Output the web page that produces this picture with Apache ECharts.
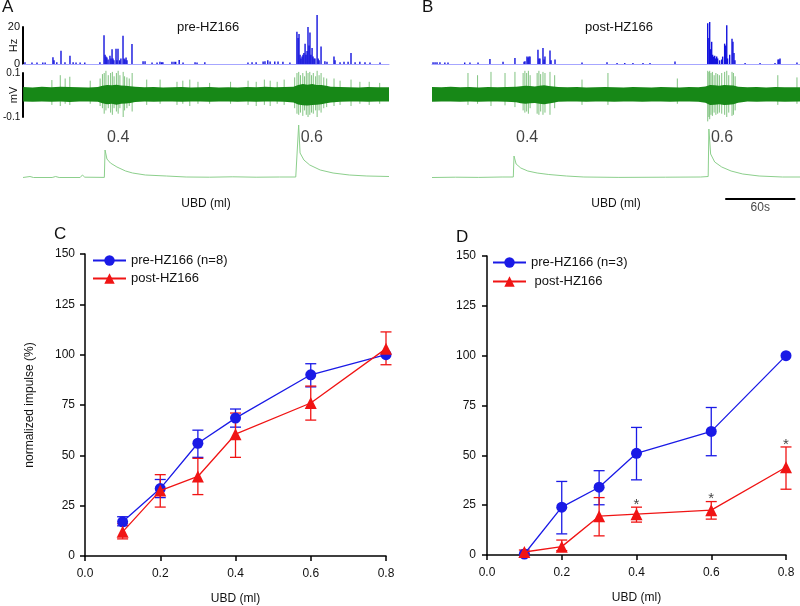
<!DOCTYPE html>
<html><head><meta charset="utf-8">
<script src="https://cdn.jsdelivr.net/npm/echarts@6/dist/echarts.min.js"></script>
<style>html,body{margin:0;padding:0;background:#fff}#c{width:800px;height:606px}</style>
</head><body><div id="c"></div>
<script>
// ===== Panels C / D : dose-response data =====
const doses = [0.1, 0.2, 0.3, 0.4, 0.6, 0.8];
const cPre    = [17, 33.5, 56, 68.5, 90, 100];
const cPreLo  = [15, 29, 49, 64, 84, 100];
const cPreHi  = [19.5, 38, 62.5, 73, 95.5, 100];
const cPost   = [12, 32.5, 39.5, 60.5, 76, 103];
const cPostLo = [8.5, 24.3, 30.5, 49, 67.5, 95];
const cPostHi = [16, 40.4, 48.5, 71, 84.4, 111.3];
const dPre    = [0.5, 24, 34, 51, 62, 100];
const dPreLo  = [0.5, 10.6, 25.2, 37.7, 49.8, 100];
const dPreHi  = [0.5, 36.9, 42.3, 64, 74, 100];
const dPost   = [1.5, 4.2, 19.5, 20.5, 22.5, 44];
const dPostLo = [0.5, 2.2, 9.6, 16.5, 18, 33];
const dPostHi = [2.5, 7.5, 28.8, 24, 26.8, 54.2];
const dSigIdx = [3, 4, 5];           // doses 0.4, 0.6, 0.8 marked *
const xTicks = [0, 0.2, 0.4, 0.6, 0.8];
const yTicks = [0, 25, 50, 75, 100, 125, 150];

// ===== Panels A / B : recordings (time in s) =====
const histA_t  = [1.7,7.7,12,17,19,25.7,26.6,29,32.6,36,40.3,43,45.5,49,53,66,69.5,70.4,71.2,72,73,74.6,75.5,76.4,77.2,78,79.8,80.6,81.5,83,84,85.8,86.7,87.5,88.4,89.2,93.5,103,104.7,110.7,115,117.5,119,120,127.8,129.6,131,134,137.3,147.6,149.3,156,193,196.5,200,206,207.6,210,212,216,218.8,223,229,235,236,236.8,237.7,238.5,239.4,240.2,241,242,242.8,243.7,244.5,245.4,246.2,247,248,248.8,249.7,250.5,252.3,253.2,254,255.7,259,260.8,266.8,267.7,272,275.4,278.9,281.4,284.9,289,293.4,297.7,306.3];
const histA_hz = [1,0.8,0.8,0.8,0.8,3.6,2,1,7.2,1,4.5,1,0.8,0.8,0.8,1,15.5,5,4,3.5,2.5,4.5,3,8,3,2,8.3,2,8.3,2,3,15.3,3,2.5,3.5,2,10.8,1.5,1.5,0.8,0.8,1.2,1,1,1.2,1.2,1.2,2.2,0.8,1,0.8,1,0.8,1,1,1.3,1.5,2,1.3,1.3,1.3,1.2,0.8,17.5,14,16.2,5,3,4,5,6,11,5,7,20,10,17,5,8.7,4,3,3,26.5,3,2,9.4,1.5,1.2,4,2,1,1.2,1.2,6,1,1.2,1,0.8,0.8];
const histB_t  = [0.9,2.6,4.3,6.8,11,13.7,28,32.5,39.4,49.6,60.8,71,78.8,79.6,81.3,82.2,83,83.9,90.7,91.6,92.4,95,95.9,96.7,101,101.9,105.3,128.4,149.8,158.4,165,172,180.6,186.6,208,236,237,237.7,238.5,239.4,240.2,241,242,242.8,243.7,244.5,246.2,248,248.8,250.5,251.4,252.3,253,254.8,256.8,257.6,258.5,259.3,268,280.8,293.6,296.2,297,297.9,312.4];
const histB_hz = [1,1,1,1,0.8,0.8,0.8,0.8,0.8,2.7,1.2,3.3,1.2,1.5,4,3.5,4,4,7.7,3,3,8.6,2.5,4,7.3,2,2.5,0.8,1,0.5,0.5,0.5,0.5,0.5,1.3,22,14,22.7,8,12,5,4,4.5,3,4,3,2,2.5,4,11,10,21,3,5,13.7,12,6,2,0.5,0.5,0.5,2.5,2.5,3,0.8];

// raw nerve trace: envelope of the dense noise band (mV) and individual spikes [t, top, bottom]
const bandA_t  = [0,8,16,24,32,40,48,56,64,68,72,76,80,84,88,92,96,104,112,120,128,136,144,152,160,168,176,184,192,200,208,216,224,232,236,240,244,248,252,256,260,264,272,280,288,296,304,314];
const bandA_hi = [0.036,0.034,0.037,0.035,0.038,0.036,0.035,0.034,0.036,0.042,0.046,0.044,0.047,0.043,0.042,0.04,0.037,0.035,0.036,0.034,0.035,0.036,0.034,0.035,0.036,0.034,0.035,0.034,0.036,0.035,0.037,0.035,0.036,0.038,0.046,0.05,0.047,0.05,0.046,0.045,0.042,0.038,0.036,0.035,0.034,0.036,0.035,0.035];
const bandA_lo = [-0.030,-0.031,-0.029,-0.031,-0.030,-0.032,-0.030,-0.029,-0.031,-0.037,-0.042,-0.04,-0.044,-0.04,-0.039,-0.036,-0.032,-0.030,-0.031,-0.029,-0.030,-0.031,-0.030,-0.029,-0.031,-0.030,-0.029,-0.031,-0.030,-0.031,-0.030,-0.029,-0.031,-0.034,-0.043,-0.047,-0.048,-0.046,-0.044,-0.042,-0.038,-0.034,-0.031,-0.030,-0.029,-0.031,-0.030,-0.030];
const bandB_t  = [0,8,16,24,32,40,48,56,64,72,76,80,84,88,92,96,100,104,108,116,124,132,140,148,156,164,172,180,188,196,204,212,220,228,234,238,242,246,250,254,258,262,270,278,286,294,302,315];
const bandB_hi = [0.036,0.035,0.037,0.035,0.036,0.034,0.036,0.035,0.036,0.038,0.04,0.042,0.041,0.039,0.042,0.044,0.041,0.039,0.036,0.035,0.036,0.034,0.035,0.036,0.035,0.034,0.036,0.035,0.034,0.036,0.035,0.034,0.036,0.035,0.039,0.046,0.044,0.042,0.046,0.044,0.043,0.037,0.035,0.036,0.034,0.036,0.035,0.035];
const bandB_lo = [-0.031,-0.030,-0.029,-0.031,-0.030,-0.031,-0.029,-0.030,-0.031,-0.033,-0.037,-0.04,-0.038,-0.036,-0.04,-0.042,-0.039,-0.035,-0.031,-0.030,-0.029,-0.031,-0.030,-0.029,-0.031,-0.030,-0.029,-0.031,-0.030,-0.029,-0.031,-0.030,-0.029,-0.031,-0.035,-0.046,-0.044,-0.042,-0.046,-0.044,-0.042,-0.035,-0.030,-0.031,-0.030,-0.029,-0.031,-0.030];
const spikesA = [[24.6,0.068,-0.045],[31.8,0.09,-0.05],[36,0.075,-0.04],[40,0.083,-0.045],[57.5,0.065,-0.04],
  [66,0.075,-0.05],[68,0.095,-0.06],[69.5,0.1,-0.085],[71,0.11,-0.07],[73,0.09,-0.06],[75,0.1,-0.08],[76.5,0.105,-0.09],[78,0.085,-0.06],[80,0.1,-0.075],[81.5,0.11,-0.085],[83,0.09,-0.06],[85.8,0.105,-0.1],[87,0.085,-0.07],[89,0.08,-0.06],[91,0.075,-0.05],[93.5,0.1,-0.075],
  [106,0.07,-0.045],[117.5,0.07,-0.04],[132,0.06,-0.045],[137,0.065,-0.04],[143,0.07,-0.05],[150,0.06,-0.04],[160,0.055,-0.04],[178,0.06,-0.04],[193,0.065,-0.045],[200,0.06,-0.05],[207,0.07,-0.045],[212,0.065,-0.05],[218,0.06,-0.04],[224,0.07,-0.045],
  [233,0.08,-0.06],[235,0.1,-0.085],[236.5,0.105,-0.09],[238,0.09,-0.08],[240,0.1,-0.095],[241.5,0.085,-0.07],[243,0.11,-0.09],[244.5,0.1,-0.1],[246,0.105,-0.09],[247.5,0.09,-0.08],[249,0.1,-0.085],[251,0.085,-0.07],[252.3,0.11,-0.1],[254,0.09,-0.07],[255.7,0.1,-0.08],[258,0.08,-0.06],[260.5,0.075,-0.055],
  [266.8,0.075,-0.05],[272,0.065,-0.045],[281.4,0.07,-0.05],[289,0.06,-0.04],[297,0.06,-0.045],[306,0.055,-0.04]];
const spikesB = [[30.8,0.1,-0.045],[39,0.09,-0.04],[50.5,0.105,-0.05],[62.5,0.1,-0.047],[71,0.105,-0.055],
  [78,0.1,-0.07],[79.5,0.11,-0.08],[81,0.1,-0.075],[82.5,0.11,-0.085],[84,0.09,-0.06],[90,0.1,-0.085],[91.5,0.11,-0.09],[93,0.095,-0.075],[95,0.105,-0.09],[96.7,0.1,-0.08],[101,0.105,-0.09],[105,0.09,-0.06],
  [128.4,0.07,-0.045],[150.6,0.1,-0.045],[210,0.075,-0.04],
  [236,0.11,-0.12],[237,0.105,-0.1],[237.7,0.11,-0.11],[238.8,0.1,-0.09],[240,0.105,-0.095],[241.5,0.09,-0.08],[243,0.1,-0.09],[244.5,0.095,-0.085],[246,0.09,-0.08],[248,0.1,-0.085],[250.5,0.105,-0.09],[252.3,0.11,-0.1],[254,0.09,-0.08],[256.8,0.105,-0.095],[258,0.1,-0.09],[259.5,0.085,-0.07],
  [296,0.09,-0.045],[312.4,0.08,-0.04]];

// bladder distension pressure trace (arbitrary units)
const pressA_t = [0,6,9,25,28,31,49,51,53,69.8,70.4,72,75,80.6,88,94,105,123,140,160,180,200,220,234,235.5,236.5,237.7,241,246,255,266,280,295,314];
const pressA_v = [0.5,1.5,0.5,0.5,1.5,0.5,0.5,3,0.8,0.6,28,19,15,11,7,5,3,2,1,0.8,1.2,0.8,1,1,2.5,53,25,18,13,8,5,3,2,1.5];
const pressB_t = [0,20,40,60,69.6,70.2,72,76,82,90,100,115,130,160,200,230,236.4,237,238.5,242,248,256,266,280,300,315];
const pressB_v = [0.5,0.8,0.6,1,1,22,14,10,7,5,3.5,2,1,0.6,0.8,1,1.5,49,24,16,11,7,4,2,1,1];
const pulseA_t = [70.4, 236.5];
const pulseB_t = [70.2, 237];
const pulseLabels = ['0.4', '0.6'];
const scaleBarStart = 251, scaleBarLen = 60;   // seconds

// ===== styling =====
const FONT = 'Liberation Sans, Arial, sans-serif';
const BLUE = '#1a1ae6', RED = '#f01414', TXT = '#111';

function zip(a, b) { return a.map((v, i) => [v, b[i]]); }

function histRender(params, api) {
  const p0 = api.coord([api.value(0), 0]);
  const p1 = api.coord([api.value(0), api.value(1)]);
  return { type: 'rect', shape: { x: p0[0] - 0.7, y: p1[1], width: 1.4, height: p0[1] - p1[1] },
           style: { fill: '#1212dd' } };
}
function spikeRender(params, api) {
  const a = api.coord([api.value(0), api.value(1)]);
  const b = api.coord([api.value(0), api.value(2)]);
  return { type: 'line', shape: { x1: a[0], y1: a[1], x2: b[0], y2: b[1] },
           style: { stroke: '#62b462', lineWidth: 1, opacity: 0.8 } };
}
function bandRender(ts, hi, lo) {
  return function (params, api) {
    const pts = [];
    for (let i = 0; i < ts.length; i++) pts.push(api.coord([ts[i], hi[i]]));
    for (let i = ts.length - 1; i >= 0; i--) pts.push(api.coord([ts[i], lo[i]]));
    return { type: 'polygon', shape: { points: pts }, style: { fill: '#178817' } };
  };
}
function errRender(color) {
  return function (params, api) {
    const x = api.value(0), lo = api.value(1), hi = api.value(2);
    if (lo === hi) return null;
    const a = api.coord([x, lo]), b = api.coord([x, hi]);
    const w = 5.5, st = { stroke: color, lineWidth: 1.3 };
    return { type: 'group', children: [
      { type: 'line', shape: { x1: a[0], y1: a[1], x2: b[0], y2: b[1] }, style: st },
      { type: 'line', shape: { x1: a[0] - w, y1: a[1], x2: a[0] + w, y2: a[1] }, style: st },
      { type: 'line', shape: { x1: b[0] - w, y1: b[1], x2: b[0] + w, y2: b[1] }, style: st }
    ] };
  };
}

const traceGrids = [
  { left: 23, top: 27, width: 366, height: 37 },
  { left: 23, top: 73, width: 366, height: 44 },
  { left: 23, top: 118, width: 366, height: 60 },
  { left: 432, top: 27, width: 368, height: 37 },
  { left: 432, top: 73, width: 368, height: 44 },
  { left: 432, top: 118, width: 368, height: 60 }
];
const plotGrids = [
  { left: 85, top: 254, width: 301, height: 302 },
  { left: 487, top: 256, width: 299, height: 299 }
];

function timeX(gi, max, kind) {
  const ax = { type: 'value', gridIndex: gi, min: 0, max: max, splitLine: { show: false },
    axisTick: { show: false }, axisLabel: { show: false } };
  if (kind === 'hist') {
    ax.axisLine = { show: true, lineStyle: { color: '#a6a6ff', width: 1 } };
  } else if (kind === 'press') {
    ax.axisLine = { show: false };
    ax.name = 'UBD (ml)'; ax.nameLocation = 'middle'; ax.nameGap = 20;
    ax.nameTextStyle = { fontFamily: FONT, fontSize: 12, color: TXT };
  } else { ax.show = false; }
  return ax;
}
function doseX(gi) {
  return { type: 'value', gridIndex: gi, min: 0, max: 0.8, interval: 0.2,
    axisLine: { lineStyle: { color: '#000', width: 1.5 } },
    axisTick: { length: 5, lineStyle: { color: '#000', width: 1.5 } },
    axisLabel: { fontFamily: FONT, fontSize: 12, color: TXT, margin: 12, formatter: v => v.toFixed(1) },
    splitLine: { show: false },
    name: 'UBD (ml)', nameLocation: 'middle', nameGap: 37,
    nameTextStyle: { fontFamily: FONT, fontSize: 12, color: TXT } };
}
function doseY(gi, withName, offset) {
  const ax = { type: 'value', gridIndex: gi, min: yTicks[0], max: yTicks[yTicks.length - 1], interval: 25, offset: offset,
    axisLine: { show: true, lineStyle: { color: '#000', width: 1.5 } },
    axisTick: { show: true, length: 5, lineStyle: { color: '#000', width: 1.5 } },
    axisLabel: { fontFamily: FONT, fontSize: 12, color: TXT, margin: 3 },
    splitLine: { show: false } };
  if (withName) {
    ax.name = 'normalized impulse (%)'; ax.nameLocation = 'middle'; ax.nameGap = 42;
    ax.nameTextStyle = { fontFamily: FONT, fontSize: 12, color: TXT };
  }
  return ax;
}
function ttl(text, left, top, size) {
  return { text: text, left: left, top: top, padding: 0,
    textStyle: { fontFamily: FONT, fontSize: size, fontWeight: 'normal', color: TXT } };
}

const option = {
  backgroundColor: '#fff',
  animation: false,
  title: [
    ttl('A', 2, -1, 17), ttl('B', 422, -1, 17), ttl('C', 54, 226, 17), ttl('D', 456, 229, 17),
    ttl('pre-HZ166', 177, 21, 13), ttl('post-HZ166', 585, 21, 13)
  ],
  legend: [
    { left: 92, top: 254, padding: 0, orient: 'vertical', itemWidth: 33, itemHeight: 13, itemGap: 5,
      data: ['pre-HZ166 (n=8)', 'post-HZ166'], textStyle: { fontFamily: FONT, fontSize: 13, color: TXT } },
    { left: 492, top: 256, padding: 0, orient: 'vertical', itemWidth: 33, itemHeight: 13, itemGap: 6,
      data: ['pre-HZ166 (n=3)', ' post-HZ166'], textStyle: { fontFamily: FONT, fontSize: 13, color: TXT } }
  ],
  grid: traceGrids.concat(plotGrids),
  xAxis: [
    timeX(0, 314, 'hist'), timeX(1, 314, 'none'), timeX(2, 314, 'press'),
    timeX(3, 315, 'hist'), timeX(4, 315, 'none'), timeX(5, 315, 'press'),
    doseX(6), doseX(7)
  ],
  yAxis: [
    { type: 'value', gridIndex: 0, min: 0, max: 20, interval: 20, splitLine: { show: false },
      axisLine: { show: true, lineStyle: { color: '#000', width: 2 } }, axisTick: { show: false },
      axisLabel: { fontFamily: FONT, fontSize: 11, color: TXT, margin: 3 },
      name: 'Hz', nameLocation: 'middle', nameGap: 4, nameMoveOverlap: false,
      nameTextStyle: { fontFamily: FONT, fontSize: 11, color: TXT } },
    { type: 'value', gridIndex: 1, min: -0.1, max: 0.1, interval: 0.1, splitLine: { show: false },
      axisLine: { show: true, lineStyle: { color: '#000', width: 2 } }, axisTick: { show: false },
      axisLabel: { fontFamily: FONT, fontSize: 10, color: TXT, margin: 3,
        formatter: v => Math.abs(v) < 1e-9 ? '' : v.toFixed(1) },
      name: 'mV', nameLocation: 'middle', nameGap: 4, nameMoveOverlap: false,
      nameTextStyle: { fontFamily: FONT, fontSize: 11, color: TXT } },
    { type: 'value', gridIndex: 2, min: 0, max: 60, show: false },
    { type: 'value', gridIndex: 3, min: 0, max: 20, show: false },
    { type: 'value', gridIndex: 4, min: -0.1, max: 0.1, show: false },
    { type: 'value', gridIndex: 5, min: 0, max: 60, show: false },
    doseY(6, true, 7),
    doseY(7, false, 8)
  ],
  series: [
    // ---- A ----
    { type: 'custom', xAxisIndex: 0, yAxisIndex: 0, clip: false, renderItem: histRender, data: zip(histA_t, histA_hz) },
    { type: 'custom', xAxisIndex: 1, yAxisIndex: 1, clip: false, renderItem: spikeRender, data: spikesA },
    { type: 'custom', xAxisIndex: 1, yAxisIndex: 1, clip: false, renderItem: bandRender(bandA_t, bandA_hi, bandA_lo), data: [[bandA_t[0], 0]] },
    { type: 'line', xAxisIndex: 2, yAxisIndex: 2, symbol: 'none', clip: false, data: zip(pressA_t, pressA_v),
      lineStyle: { color: '#8ccf8c', width: 1 } },
    { type: 'scatter', xAxisIndex: 2, yAxisIndex: 2, symbolSize: 0, clip: false,
      data: pulseA_t.map(t => [t, 40]),
      label: { show: true, position: 'right', distance: 2, fontFamily: FONT, fontSize: 16, color: TXT,
        formatter: p => pulseLabels[p.dataIndex] } },
    // ---- B ----
    { type: 'custom', xAxisIndex: 3, yAxisIndex: 3, clip: false, renderItem: histRender, data: zip(histB_t, histB_hz) },
    { type: 'custom', xAxisIndex: 4, yAxisIndex: 4, clip: false, renderItem: spikeRender, data: spikesB },
    { type: 'custom', xAxisIndex: 4, yAxisIndex: 4, clip: false, renderItem: bandRender(bandB_t, bandB_hi, bandB_lo), data: [[bandB_t[0], 0]] },
    { type: 'line', xAxisIndex: 5, yAxisIndex: 5, symbol: 'none', clip: false, data: zip(pressB_t, pressB_v),
      lineStyle: { color: '#8ccf8c', width: 1 } },
    { type: 'scatter', xAxisIndex: 5, yAxisIndex: 5, symbolSize: 0, clip: false,
      data: pulseB_t.map(t => [t, 40]),
      label: { show: true, position: 'right', distance: 2, fontFamily: FONT, fontSize: 16, color: TXT,
        formatter: p => pulseLabels[p.dataIndex] } },
    { type: 'line', xAxisIndex: 5, yAxisIndex: 5, symbol: 'none', clip: false,
      data: [[scaleBarStart, -21], [scaleBarStart + scaleBarLen, -21]], lineStyle: { color: '#000', width: 2 } },
    { type: 'scatter', xAxisIndex: 5, yAxisIndex: 5, symbolSize: 0, clip: false,
      data: [[scaleBarStart + scaleBarLen / 2, -21]],
      label: { show: true, position: 'bottom', distance: 3, fontFamily: FONT, fontSize: 12, color: TXT,
        formatter: () => scaleBarLen + 's' } },
    // ---- C ----
    { type: 'custom', xAxisIndex: 6, yAxisIndex: 6, renderItem: errRender(BLUE), data: doses.map((d, i) => [d, cPreLo[i], cPreHi[i]]), z: 3 },
    { type: 'custom', xAxisIndex: 6, yAxisIndex: 6, renderItem: errRender(RED), data: doses.map((d, i) => [d, cPostLo[i], cPostHi[i]]), z: 3 },
    { name: 'pre-HZ166 (n=8)', type: 'line', xAxisIndex: 6, yAxisIndex: 6, data: zip(doses, cPre),
      symbol: 'circle', symbolSize: 11, lineStyle: { color: BLUE, width: 1.3 }, itemStyle: { color: BLUE }, z: 4 },
    { name: 'post-HZ166', type: 'line', xAxisIndex: 6, yAxisIndex: 6, data: zip(doses, cPost),
      symbol: 'triangle', symbolSize: 12, lineStyle: { color: RED, width: 1.3 }, itemStyle: { color: RED }, z: 5 },
    // ---- D ----
    { type: 'custom', xAxisIndex: 7, yAxisIndex: 7, renderItem: errRender(BLUE), data: doses.map((d, i) => [d, dPreLo[i], dPreHi[i]]), z: 3 },
    { type: 'custom', xAxisIndex: 7, yAxisIndex: 7, renderItem: errRender(RED), data: doses.map((d, i) => [d, dPostLo[i], dPostHi[i]]), z: 3 },
    { name: 'pre-HZ166 (n=3)', type: 'line', xAxisIndex: 7, yAxisIndex: 7, data: zip(doses, dPre),
      symbol: 'circle', symbolSize: 11, lineStyle: { color: BLUE, width: 1.3 }, itemStyle: { color: BLUE }, z: 4 },
    { name: ' post-HZ166', type: 'line', xAxisIndex: 7, yAxisIndex: 7, data: zip(doses, dPost),
      symbol: 'triangle', symbolSize: 12, lineStyle: { color: RED, width: 1.3 }, itemStyle: { color: RED }, z: 5 },
    { type: 'scatter', xAxisIndex: 7, yAxisIndex: 7, symbolSize: 0, z: 6,
      data: dSigIdx.map(i => [doses[i], dPostHi[i]]),
      label: { show: true, position: 'top', distance: -5, fontFamily: FONT, fontSize: 15, color: TXT, formatter: '*' } }
  ]
};

const chart = echarts.init(document.getElementById('c'), null, { renderer: 'canvas' });
chart.setOption(option);
</script>
</body></html>
